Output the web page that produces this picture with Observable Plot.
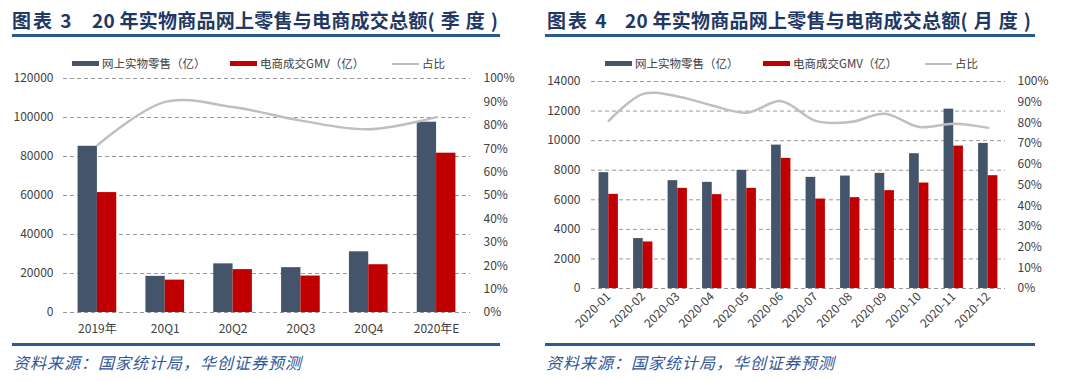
<!DOCTYPE html>
<html><head><meta charset="utf-8">
<script src="https://cdn.jsdelivr.net/npm/d3@7"></script>
<script src="https://cdn.jsdelivr.net/npm/@observablehq/plot@0.6"></script>
<style>
body{margin:0;background:#fff;font-family:"Noto Sans CJK SC",sans-serif;}
#root{position:relative;width:1080px;height:382px;overflow:hidden;background:#fff;}
.panel{position:absolute;top:0;width:540px;height:382px;}
.t{position:absolute;top:6px;font-weight:700;font-size:19px;color:#1f3864;letter-spacing:0.25px;white-space:pre;line-height:28px}
.t .par{letter-spacing:6px}
.rule{position:absolute;height:3px;background:#2a5a8e;}
.leg{position:absolute;top:55px;font-size:11.5px;color:#404040;line-height:16px;white-space:nowrap}
.sw{position:absolute;top:61px;height:5px}
.src{position:absolute;top:351px;font-size:16px;font-style:italic;color:#2f5597;letter-spacing:1px;white-space:nowrap;line-height:22px}
.panel svg{position:absolute;top:70px;left:0}
</style></head><body><div id="root"></div><script>
// ---- Data: quarterly (图表3)
const quarterCats = ["2019年", "20Q1", "20Q2", "20Q3", "20Q4", "2020年E"];
const quarterRetail = [85239, 18536, 24945, 22996, 31113, 97590];
const quarterGmv = [61500, 16600, 22000, 18700, 24500, 81700];
const quarterRatio = [0.715, 0.90, 0.878, 0.82, 0.783, 0.835];
// ---- Data: monthly (图表4)
const monthCats = ["2020-01","2020-02","2020-03","2020-04","2020-05","2020-06","2020-07","2020-08","2020-09","2020-10","2020-11","2020-12"];
const monthRetail = [7834, 3377, 7294, 7179, 7990, 9698, 7517, 7605, 7787, 9117, 12130, 9813];
const monthGmv = [6369, 3147, 6774, 6348, 6774, 8800, 6051, 6146, 6618, 7132, 9630, 7631];
const monthRatio = [0.81, 0.94, 0.928, 0.884, 0.849, 0.905, 0.81, 0.804, 0.844, 0.78, 0.796, 0.776];
// ---- Tick labels
const pctTicks = [0, 0.1, 0.2, 0.3, 0.4, 0.5, 0.6, 0.7, 0.8, 0.9, 1.0];
const quarterYTicks = [0, 20000, 40000, 60000, 80000, 100000, 120000];
const monthYTicks = [0, 2000, 4000, 6000, 8000, 10000, 12000, 14000];
const legendLabels = ["网上实物零售（亿）", "电商成交GMV（亿）", "占比"];

const FONT = '"Noto Sans CJK SC", "Noto Sans", sans-serif';

function makeChart(o) {
  const data = o.cats.map((c, i) => ({cat: c, retail: o.retail[i], gmv: o.gmv[i], ratio: o.ratio[i]}));
  const n = o.cats.length;
  const yMax = o.yTicks[o.yTicks.length - 1];
  const inner = o.width - o.mL - o.mR;
  const step = inner / (n - o.pi + 2 * o.po);
  const half = step * (1 - o.pi) / 2;
  return Plot.plot({
    width: o.width, height: o.height,
    marginLeft: o.mL, marginRight: o.mR, marginTop: o.mT, marginBottom: o.mB,
    style: {fontFamily: FONT, fontSize: "12px", color: "#404040", background: "transparent", overflow: "visible"},
    x: {domain: o.cats, type: "band", paddingInner: o.pi, paddingOuter: o.po, round: false, label: null},
    y: {domain: [0, yMax], label: null},
    marks: [
      Plot.gridY(o.yTicks, {stroke: "#9a9a9a", strokeOpacity: 1, strokeDasharray: "4,3", strokeWidth: 1}),
      Plot.barY(data, {x: "cat", y: "retail", fill: "#44546a", insetRight: half, insetLeft: 0}),
      Plot.barY(data, {x: "cat", y: "gmv", fill: "#c00000", insetLeft: half, insetRight: 0}),
      Plot.line(data, {x: "cat", y: d => d.ratio * yMax, stroke: "#bfbfbf", strokeWidth: 2.5, curve: "catmull-rom"}),
      Plot.axisY(o.yTicks, {anchor: "left", tickSize: 0, tickPadding: o.lPad, tickFormat: d => String(d)}),
      Plot.axisY(pctTicks.map(p => p * yMax), {anchor: "right", tickSize: 0, tickPadding: o.rPad, tickFormat: d => Math.round(d / yMax * 100) + "%"}),
      Plot.axisX({tickSize: 0, tickPadding: o.xPad, tickRotate: o.rotate || 0})
    ]
  });
}

function panel(left, cfg) {
  const p = document.createElement("div");
  p.className = "panel";
  p.style.left = left + "px";
  p.innerHTML = `
    <div class="t" style="left:${cfg.tL}px;letter-spacing:2px">${cfg.t1}</div>
    <div class="t" style="left:${cfg.tL + cfg.tGap}px">20 年实物商品网上零售与电商成交总额<span class="par">(${cfg.t2})</span></div>
    <div class="rule" style="left:${cfg.ruleL}px;width:${cfg.ruleW}px;top:34px"></div>
    <div class="sw" style="left:${cfg.leg[0]}px;width:27px;background:#44546a"></div>
    <div class="leg" style="left:${cfg.leg[0] + 30}px">${legendLabels[0]}</div>
    <div class="sw" style="left:${cfg.leg[1]}px;width:27px;background:#c00000"></div>
    <div class="leg" style="left:${cfg.leg[1] + 30}px">${legendLabels[1]}</div>
    <div class="sw" style="left:${cfg.leg[2]}px;width:27px;height:2px;top:62.5px;background:#bfbfbf"></div>
    <div class="leg" style="left:${cfg.leg[2] + 30}px">${legendLabels[2]}</div>
    <div class="rule" style="left:${cfg.ruleL}px;width:${cfg.ruleW}px;top:343px"></div>
    <div class="src" style="left:${cfg.ruleL + 1}px">资料来源：国家统计局，华创证券预测</div>`;
  p.appendChild(cfg.chart);
  document.getElementById("root").appendChild(p);
}

panel(0, {
  tL: 12, tGap: 80, t1: "图表 3", t2: "季度",
  ruleL: 12, ruleW: 488, leg: [72, 230, 392],
  chart: makeChart({cats: quarterCats, retail: quarterRetail, gmv: quarterGmv, ratio: quarterRatio,
    yTicks: quarterYTicks, width: 540, height: 270, mL: 63, mR: 70, mT: 8, mB: 28,
    pi: 0.43, po: 0.215, lPad: 10, rPad: 13, xPad: 12})
});
panel(540, {
  tL: 7, tGap: 78, t1: "图表 4", t2: "月度",
  ruleL: 5, ruleW: 490, leg: [65, 223, 385],
  chart: makeChart({cats: monthCats, retail: monthRetail, gmv: monthGmv, ratio: monthRatio,
    yTicks: monthYTicks, width: 540, height: 270, mL: 51, mR: 75, mT: 11, mB: 52,
    pi: 0.44, po: 0.22, lPad: 11, rPad: 12, xPad: 6, rotate: -45})
});
</script></body></html>
